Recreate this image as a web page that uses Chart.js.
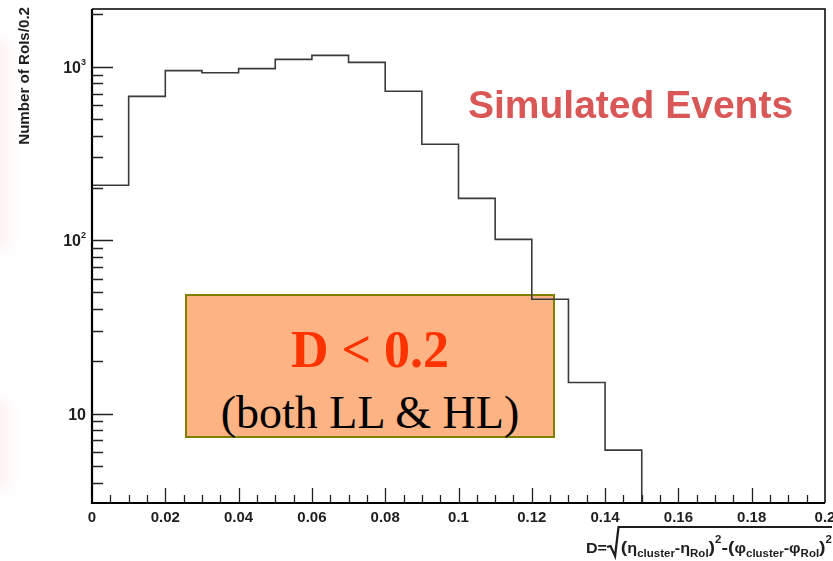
<!DOCTYPE html>
<html>
<head>
<meta charset="utf-8">
<script src="https://cdn.jsdelivr.net/npm/chart.js@4.4.0/dist/chart.umd.min.js"></script>
<style>
  html, body { margin: 0; padding: 0; background: #fff; width: 833px; height: 561px; overflow: hidden; }
  #wrap { position: relative; width: 833px; height: 561px; }
  #c { position: absolute; left: 0; top: 0; z-index: 2; }
  .blush { position: absolute; background: #f9c9c9; filter: blur(6px); opacity: 0.22; z-index: 0; }
  #box { position: absolute; left: 185px; top: 294px; width: 370px; height: 144px; box-sizing: border-box;
         border: 2px solid #7f7f00; background: #fdb383; z-index: 1; }
  .t { position: absolute; left: 0; width: 100%; text-align: center; white-space: nowrap; font-family: "Liberation Serif", "Times New Roman", serif; }
  #t1 { font-size: 52px; font-weight: bold; color: #ff3300; line-height: 52px; top: 27.5px; }
  #t2 { font-size: 46px; color: #000; line-height: 46px; top: 93.5px; }
  #sim { position: absolute; left: 468px; top: 85px; font-family: "Liberation Sans", Arial, sans-serif; font-weight: bold;
         font-size: 39px; line-height: 39px; color: #d95757; white-space: nowrap; z-index: 3; }
</style>
</head>
<body>
<div id="wrap">
  <div class="blush" style="left:-12px;top:40px;width:22px;height:210px;"></div>
  <div class="blush" style="left:-12px;top:400px;width:22px;height:90px;"></div>
  <div id="box">
    <div class="t" id="t1">D &lt; 0.2</div>
    <div class="t" id="t2">(both LL &amp; HL)</div>
  </div>
  <div id="sim">Simulated Events</div>
  <canvas id="c" width="833" height="561"></canvas>
</div>
<script>
// ---- data ----
const binEdges = [0, 0.01, 0.02, 0.03, 0.04, 0.05, 0.06, 0.07, 0.08, 0.09, 0.10, 0.11, 0.12, 0.13, 0.14, 0.15];
const binCounts = [207, 674, 949, 922, 974, 1101, 1161, 1058, 721, 357, 174, 101, 45.6, 15.1, 6.15];
const xMin = 0, xMax = 0.2;
const yMin = 3.05, yMax = 2150;
const xMajorTicks = [0, 0.02, 0.04, 0.06, 0.08, 0.1, 0.12, 0.14, 0.16, 0.18, 0.2];
const xTickLabels = ['0', '0.02', '0.04', '0.06', '0.08', '0.1', '0.12', '0.14', '0.16', '0.18', '0.2'];
const xMinorStep = 0.005;
const yMajorTicks = [10, 100, 1000];
const yLabelBase = ['10', '10', '10'];
const yLabelExp = ['', '2', '3'];
const yTitle = 'Number of RoIs/0.2';

// build histogram outline points from the arrays (each point = left edge of a bin)
const histPoints = [{ x: binEdges[0], y: yMin }];
for (let i = 0; i < binCounts.length; i++) histPoints.push({ x: binEdges[i], y: binCounts[i] });
histPoints.push({ x: binEdges[binEdges.length - 1], y: binCounts[binCounts.length - 1] });
histPoints.push({ x: binEdges[binEdges.length - 1], y: yMin });

const axesPlugin = {
  id: 'rootAxes',
  afterDraw(chart) {
    const ctx = chart.ctx;
    const a = chart.chartArea;
    const xs = chart.scales.x, ys = chart.scales.y;
    ctx.save();
    // frame
    ctx.strokeStyle = '#000';
    ctx.lineWidth = 1.5;
    ctx.beginPath();
    ctx.moveTo(a.left, a.top); ctx.lineTo(a.right, a.top); ctx.lineTo(a.right, a.bottom);
    ctx.stroke();
    ctx.lineWidth = 2.2;
    ctx.beginPath();
    ctx.moveTo(a.left, a.top); ctx.lineTo(a.left, a.bottom); ctx.lineTo(a.right, a.bottom);
    ctx.stroke();

    // x ticks
    ctx.lineWidth = 1.3;
    ctx.strokeStyle = '#222';
    ctx.beginPath();
    const nMinor = Math.round((xMax - xMin) / xMinorStep);
    for (let i = 1; i < nMinor; i++) {
      const v = xMin + i * xMinorStep;
      const px = Math.round(xs.getPixelForValue(v)) + 0.5;
      const isMajor = xMajorTicks.some(t => Math.abs(t - v) < 1e-9);
      const len = isMajor ? 15 : 8;
      ctx.moveTo(px, a.bottom); ctx.lineTo(px, a.bottom - len);
    }
    // y ticks
    for (let d = 0; d <= 4; d++) {
      for (let k = 1; k <= 9; k++) {
        const v = k * Math.pow(10, d);
        if (v < yMin || v > yMax) continue;
        const py = Math.round(ys.getPixelForValue(v)) + 0.5;
        const len = (k === 1) ? 21 : 11;
        ctx.moveTo(a.left, py); ctx.lineTo(a.left + len, py);
      }
    }
    ctx.stroke();

    // x labels
    ctx.fillStyle = '#1e1e1e';
    ctx.font = 'bold 15px "Liberation Sans", Arial, sans-serif';
    ctx.textAlign = 'center';
    ctx.textBaseline = 'alphabetic';
    xMajorTicks.forEach((v, i) => {
      ctx.fillText(xTickLabels[i], xs.getPixelForValue(v), 522);
    });

    // y labels (with superscripts)
    yMajorTicks.forEach((v, i) => {
      const py = ys.getPixelForValue(v);
      ctx.font = 'bold 9px "Liberation Sans", Arial, sans-serif';
      const ew = yLabelExp[i] ? ctx.measureText(yLabelExp[i]).width : 0;
      ctx.textAlign = 'right';
      ctx.textBaseline = 'alphabetic';
      if (yLabelExp[i]) ctx.fillText(yLabelExp[i], 86, py - 2);
      ctx.font = 'bold 16px "Liberation Sans", Arial, sans-serif';
      ctx.fillText(yLabelBase[i], 86 - ew, py + 6);
    });

    // y title
    ctx.save();
    ctx.translate(25, 7);
    ctx.rotate(-Math.PI / 2);
    ctx.scale(1.08, 1);
    ctx.font = 'bold 14px "Liberation Sans", Arial, sans-serif';
    ctx.textAlign = 'right';
    ctx.textBaseline = 'middle';
    ctx.fillStyle = '#1e1e1e';
    ctx.fillText(yTitle, 0, 0);
    ctx.restore();

    // x title formula
    drawFormula(ctx);
    ctx.restore();
  }
};

function drawFormula(ctx) {
  const main = 'bold 14px "Liberation Sans", Arial, sans-serif';
  const sub = 'bold 10px "Liberation Sans", Arial, sans-serif';
  const big = 'bold 17px "Liberation Sans", Arial, sans-serif';
  const parts = [
    { t: 'D=', f: main, dy: 0 },
    { rad: true, w: 12 },
    { t: '(', f: big, dy: 0 }, { t: 'η', f: main, dy: 0 }, { t: 'cluster', f: sub, dy: 4 },
    { t: '-η', f: main, dy: 0 }, { t: 'RoI', f: sub, dy: 4 }, { t: ')', f: big, dy: 0 }, { t: '2', f: sub, dy: -10 },
    { t: '-(', f: big, dy: 0 }, { t: 'φ', f: main, dy: 0 }, { t: 'cluster', f: sub, dy: 4 },
    { t: '-φ', f: main, dy: 0 }, { t: 'RoI', f: sub, dy: 4 }, { t: ')', f: big, dy: 0 }, { t: '2', f: sub, dy: -10 }
  ];
  let total = 0;
  parts.forEach(p => {
    if (p.rad) { total += p.w; return; }
    ctx.font = p.f; p.w = ctx.measureText(p.t).width; total += p.w;
  });
  const x0 = 586, x1 = 832, base = 553;
  const sx = (x1 - x0) / total;
  ctx.save();
  ctx.translate(x0, base);
  ctx.scale(sx, 1);
  ctx.fillStyle = '#1e1e1e';
  ctx.strokeStyle = '#1e1e1e';
  ctx.textAlign = 'left';
  ctx.textBaseline = 'alphabetic';
  let x = 0;
  parts.forEach(p => {
    if (p.rad) {
      ctx.lineWidth = 2;
      ctx.beginPath();
      ctx.moveTo(x, -6); ctx.lineTo(x + 3, -7); ctx.lineTo(x + 7, 3); ctx.lineTo(x + 10, -26); ctx.lineTo(total, -26);
      ctx.stroke();
      x += p.w; return;
    }
    ctx.font = p.f;
    ctx.fillText(p.t, x, p.dy);
    x += p.w;
  });
  ctx.restore();
}

new Chart(document.getElementById('c'), {
  type: 'line',
  data: {
    datasets: [{
      data: histPoints,
      stepped: 'before',
      borderColor: '#3a3a3a',
      borderWidth: 1.6,
      pointRadius: 0,
      fill: false,
      tension: 0
    }]
  },
  options: {
    responsive: false,
    animation: false,
    devicePixelRatio: 1,
    layout: { padding: { left: 92, right: 8, top: 9, bottom: 58 } },
    plugins: { legend: { display: false }, tooltip: { enabled: false } },
    scales: {
      x: { type: 'linear', min: xMin, max: xMax, display: false },
      y: { type: 'logarithmic', min: yMin, max: yMax, display: false }
    }
  },
  plugins: [axesPlugin]
});
</script>
</body>
</html>
